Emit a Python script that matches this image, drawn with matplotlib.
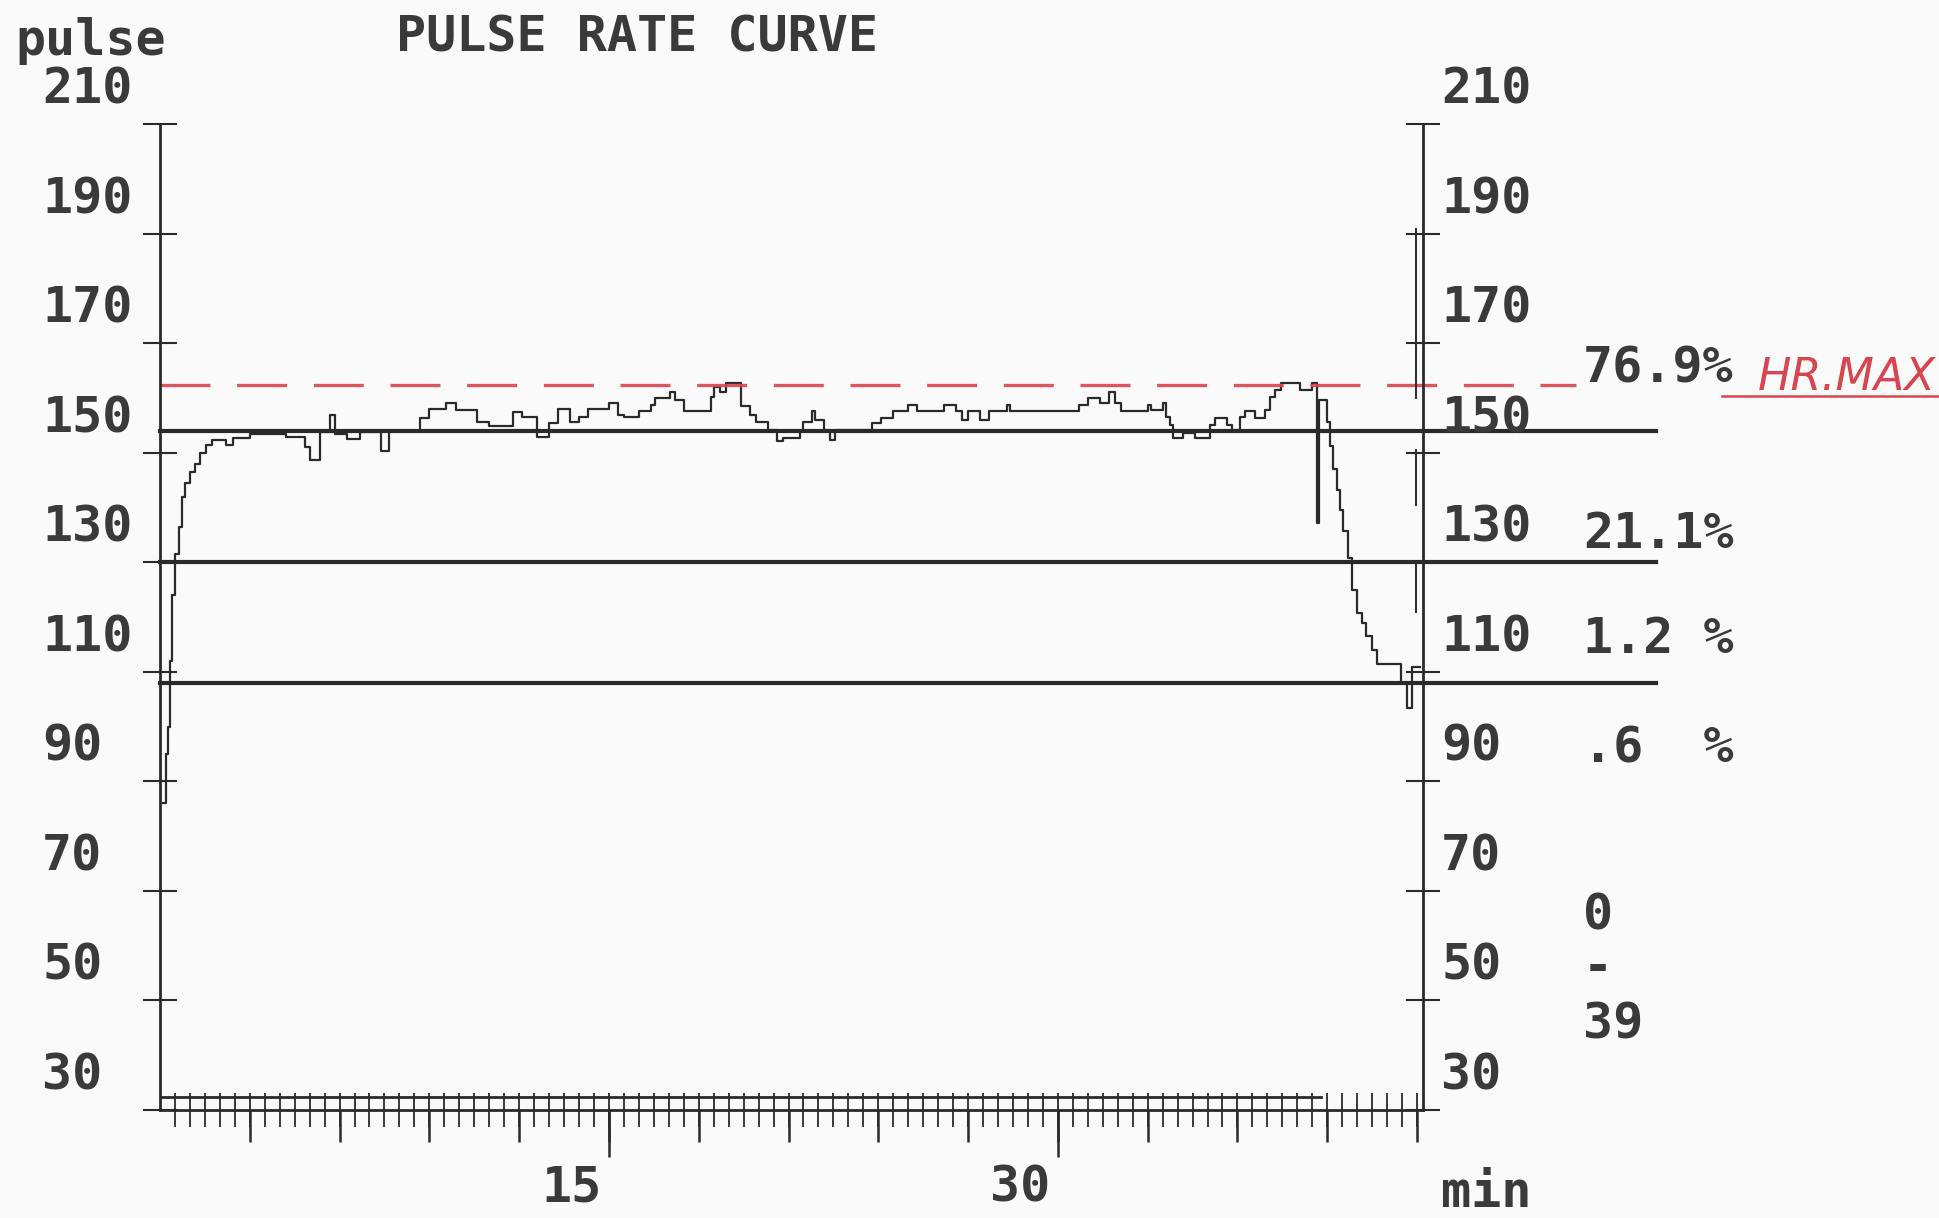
import matplotlib.pyplot as plt
import matplotlib.transforms as transforms
import numpy as np

# pulse curve (minutes, beats/min), drawn as steps
minutes = [0.10, 0.20, 0.28, 0.33, 0.40, 0.50, 0.62, 0.72, 0.85, 1.00,
           1.18, 1.35, 1.55, 1.75, 2.20, 2.45, 3.00, 4.20, 4.85, 5.00,
           5.35, 5.68, 5.85, 6.25, 6.68, 7.40, 7.65, 8.70, 9.00, 9.57,
           9.90, 10.60, 11.00, 11.80, 12.10, 12.60, 13.00, 13.30, 13.70, 14.00,
           14.30, 15.00, 15.30, 15.50, 16.00, 16.40, 16.55, 17.04, 17.20, 17.50,
           18.40, 18.50, 18.70, 18.90, 19.40, 19.70, 19.90, 20.30, 20.60, 20.80,
           21.40, 21.50, 21.80, 21.90, 22.20, 22.40, 22.55, 23.80, 24.10, 24.50,
           25.00, 25.30, 26.20, 26.60, 26.80, 27.00, 27.40, 27.70, 28.30, 28.40,
           30.70, 31.00, 31.40, 31.70, 31.90, 32.10, 33.02, 33.10, 33.50, 33.60,
           33.75, 33.85, 34.19, 34.58, 35.08, 35.26, 35.64, 35.81, 36.08, 36.25,
           36.58, 36.92, 37.08, 37.25, 37.47, 38.09, 38.48, 38.65, 38.72, 38.98,
           39.09, 39.20, 39.31, 39.42, 39.54, 39.70, 39.82, 39.98, 40.15, 40.31,
           40.48, 40.65, 41.48, 41.65, 41.82, 42.10]
pulse = [86, 95, 100, 112, 124, 131.5, 136.5, 142, 144.5, 146.5,
         148, 150, 151.5, 152.4, 151.5, 152.8, 153.4, 153.0, 151.0, 148.7,
         153.9, 157.0, 153.5, 152.6, 153.9, 150.3, 154.1, 156.3, 158.0, 159.2,
         157.8, 155.7, 155.0, 157.5, 156.5, 153.0, 155.5, 158.0, 155.7, 156.5,
         158.0, 159.2, 157.0, 156.5, 157.6, 158.8, 160.0, 161.2, 159.6, 157.6,
         160.3, 162.1, 161.2, 162.7, 158.5, 157.0, 155.7, 154.2, 152.1, 152.7,
         154.0, 155.7, 157.6, 156.0, 154.2, 152.4, 154.2, 155.4, 156.3, 157.6,
         158.8, 157.7, 158.8, 157.6, 156.0, 157.6, 156.0, 157.6, 158.8, 157.6,
         158.8, 160.0, 159.1, 161.2, 159.1, 157.6, 158.8, 157.9, 159.1, 156.6,
         155.1, 152.7, 153.6, 152.7, 155.1, 156.3, 155.1, 154.2, 156.6, 157.6,
         156.3, 157.9, 160.3, 161.5, 162.7, 161.5, 162.7, 137.2, 159.6, 155.7,
         151.2, 147.0, 143.3, 139.6, 135.7, 130.8, 125.0, 120.8, 119.0, 116.5,
         114.1, 111.4, 108.0, 103.4, 110.9, 110.9]

pulse_ticks = [210, 190, 170, 150, 130, 110, 90, 70, 50, 30]
minute_labels = [15, 30]
zone_limits = [154, 130, 108]
hr_max_line = 162.4
zone_shares = ['76.9%', '21.1%', '1.2 %', '.6  %']
duration = ['0', '-', '39']
record_end = 38.8
side_marks = [(191, 160), (150.5, 140.5), (130, 121)]

ink = '#2a2a2a'
red = '#d8454f'
mono = 'DejaVu Sans Mono'
paper = '#fafafa'

fig = plt.figure(figsize=(19.39, 12.18), dpi=100)
fig.patch.set_facecolor(paper)
ax = fig.add_axes([0.0825, 0.0887, 0.6514, 0.8091])
ax.set_facecolor(paper)
ax.set_xlim(0, 42.2)
ax.set_ylim(30, 210)

# curve and zone limits
ax.step(minutes, pulse, where='post', color=ink, lw=1.6)
for lim in zone_limits:
    ax.plot([0, 50], [lim, lim], color=ink, lw=3, clip_on=False)
ax.plot([0, 47.3], [hr_max_line, hr_max_line], color=red, lw=2.4,
        dashes=(15, 8), alpha=0.9, clip_on=False)
ax.plot([0, record_end], [32.4, 32.4], color=ink, lw=2)
for top, bottom in side_marks:
    ax.plot([41.95, 41.95], [top, bottom], color=ink, lw=1.4)

for side in ['left', 'right', 'bottom']:
    ax.spines[side].set_color(ink)
    ax.spines[side].set_linewidth(2)
ax.spines['top'].set_visible(False)

ax.set_yticks(pulse_ticks)
ax.tick_params(axis='y', which='major', direction='inout', length=24, width=1.5,
               left=True, right=True, labelleft=False, labelright=False, color=ink)
ax.set_xticks(np.arange(3, 43, 3))
ax.set_xticks(np.arange(0.5, 42.1, 0.5), minor=True)
ax.xaxis.remove_overlapping_locs = False
ax.tick_params(axis='x', which='major', direction='out', length=23, width=1.8,
               labelbottom=False, color=ink)
ax.tick_params(axis='x', which='minor', direction='inout', length=24, width=1.3, color=ink)
ax.vlines(minute_labels, 21.4, 30, color=ink, lw=1.8, clip_on=False)

# text, dot matrix style
txt = dict(fontfamily=mono, fontsize=36, fontweight='bold', color='#3a3a3a', va='center')
trans = transforms.blended_transform_factory(fig.transFigure, ax.transData)
for v in pulse_ticks:
    ax.text(0.0217, v + 6.3, str(v), transform=trans, ha='left', **txt)
    ax.text(0.7432, v + 6.3, str(v), transform=trans, ha='left', **txt)
for s, y in zip(zone_shares, [165.5, 135.2, 116.0, 96.1]):
    ax.text(0.8164, y, s, transform=trans, ha='left', **txt)
for s, y in zip(duration, [65.6, 56.0, 45.7]):
    ax.text(0.8164, y, s, transform=trans, ha='left', **txt)
ax.text(0.7432, 14.8, 'min', transform=trans, ha='left', **txt)
for m in minute_labels:
    ax.text(m - 0.25, 15.9, str(m), ha='right', **txt)

fig.text(0.3285, 0.9696, 'PULSE RATE CURVE', ha='center', va='center',
         fontfamily=mono, fontsize=36, fontweight='bold', color='#3a3a3a')
fig.text(0.0077, 0.9663, 'pulse', ha='left', va='center',
         fontfamily=mono, fontsize=36, fontweight='bold', color='#3a3a3a')

# hand written note
ax.plot([52.2, 59.8], [160.4, 160.4], color=red, lw=1.8, clip_on=False)
ax.text(53.4, 163.8, 'HR.MAX', color=red, style='italic', fontsize=32,
        fontfamily='DejaVu Sans', ha='left', va='center')

fig.savefig('out.png', dpi=100, facecolor=fig.get_facecolor())
